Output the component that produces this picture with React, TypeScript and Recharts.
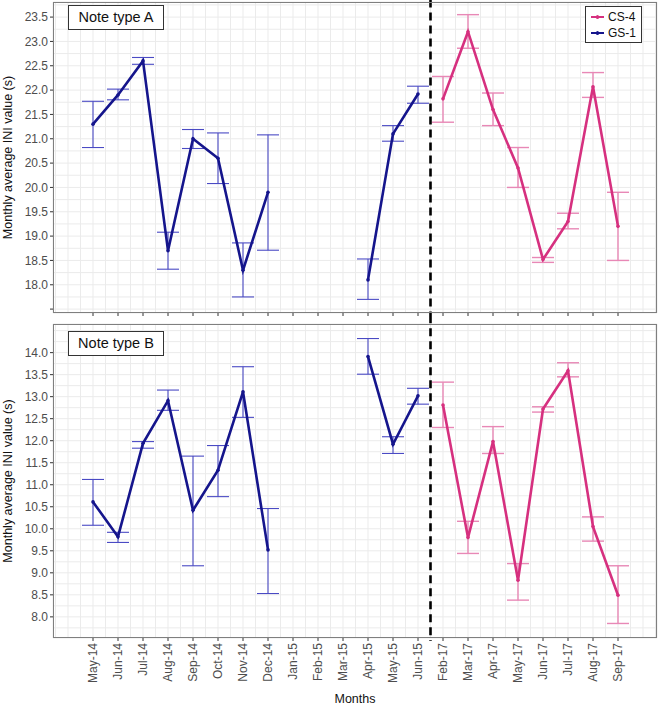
import { CartesianGrid, ErrorBar, Line, LineChart, ReferenceLine, XAxis, YAxis } from 'recharts';

const months = [
  'May-14', 'Jun-14', 'Jul-14', 'Aug-14', 'Sep-14', 'Oct-14', 'Nov-14', 'Dec-14',
  'Jan-15', 'Feb-15', 'Mar-15', 'Apr-15', 'May-15', 'Jun-15',
  'Feb-17', 'Mar-17', 'Apr-17', 'May-17', 'Jun-17', 'Jul-17', 'Aug-17', 'Sep-17',
];

// Note type A
const aGS = [21.3, 21.9, 22.6, 18.7, 21.0, 20.6, 18.3, 19.9, null, null, null, 18.1, 21.1, 21.92, null, null, null, null, null, null, null, null];
const aGSLow = [20.82, 21.8, 22.53, 18.32, 20.8, 20.08, 17.75, 18.71, null, null, null, 17.7, 20.95, 21.73, null, null, null, null, null, null, null, null];
const aGSHigh = [21.77, 22.02, 22.67, 19.08, 21.19, 21.12, 18.86, 21.08, null, null, null, 18.53, 21.27, 22.08, null, null, null, null, null, null, null, null];
const aCS = [null, null, null, null, null, null, null, null, null, null, null, null, null, null, 21.82, 23.2, 21.6, 20.4, 18.52, 19.3, 22.07, 19.2];
const aCSLow = [null, null, null, null, null, null, null, null, null, null, null, null, null, null, 21.34, 22.86, 21.27, 20.0, 18.46, 19.15, 21.85, 18.5];
const aCSHigh = [null, null, null, null, null, null, null, null, null, null, null, null, null, null, 22.28, 23.55, 21.94, 20.82, 18.56, 19.47, 22.36, 19.9];

// Note type B
const bGS = [10.61, 9.82, 11.94, 12.91, 10.42, 11.33, 13.11, 9.52, null, null, null, 13.91, 11.92, 13.02, null, null, null, null, null, null, null, null];
const bGSLow = [10.08, 9.69, 11.83, 12.69, 9.16, 10.73, 12.53, 8.53, null, null, null, 13.51, 11.71, 12.83, null, null, null, null, null, null, null, null];
const bGSHigh = [11.12, 9.92, 11.98, 13.15, 11.65, 11.89, 13.68, 10.46, null, null, null, 14.32, 12.09, 13.19, null, null, null, null, null, null, null, null];
const bCS = [null, null, null, null, null, null, null, null, null, null, null, null, null, null, 12.81, 9.8, 11.98, 8.83, 12.72, 13.59, 10.05, 8.49];
const bCSLow = [null, null, null, null, null, null, null, null, null, null, null, null, null, null, 12.3, 9.44, 11.71, 8.38, 12.65, 13.45, 9.72, 7.85];
const bCSHigh = [null, null, null, null, null, null, null, null, null, null, null, null, null, null, 13.33, 10.17, 12.32, 9.21, 12.77, 13.77, 10.27, 9.16];

const aTicks = [17.5, 18, 18.5, 19, 19.5, 20, 20.5, 21, 21.5, 22, 22.5, 23, 23.5];
const bTicks = [8, 8.5, 9, 9.5, 10, 10.5, 11, 11.5, 12, 12.5, 13, 13.5, 14];

const FONT = '"Liberation Sans", Arial, Helvetica, sans-serif';
const NAVY = '#15158c';
const NAVY_ERR = '#4a4ac4';
const PINK = '#d6307f';
const PINK_ERR = '#e888b6';

// grid every half step (major + minor)
const xGrid: number[] = [];
for (let i = -3; i <= 45; i++) xGrid.push(i / 2);
const gridTicks = (lo: number, hi: number) => {
  const out: number[] = [];
  for (let v = Math.ceil(lo * 4); v <= Math.floor(hi * 4); v++) out.push(v / 4);
  return out;
};

const buildRows = (gs: any[], gsLo: any[], gsHi: any[], cs: any[], csLo: any[], csHi: any[]) =>
  months.map((m, i) => ({
    idx: i,
    month: m,
    gs: gs[i],
    gsErr: gs[i] == null ? null : [gs[i] - gsLo[i], gsHi[i] - gs[i]],
    cs: cs[i],
    csErr: cs[i] == null ? null : [cs[i] - csLo[i], csHi[i] - cs[i]],
  }));

const rowsA = buildRows(aGS, aGSLow, aGSHigh, aCS, aCSLow, aCSHigh);
const rowsB = buildRows(bGS, bGSLow, bGSHigh, bCS, bCSLow, bCSHigh);

const XTick = (props: any) => {
  const { x, y, payload, showLabel } = props;
  const v = payload.value;
  if (!Number.isInteger(v) || v < 0 || v >= months.length) return <g />;
  return (
    <g transform={`translate(${x},${y})`}>
      <line x1={0} y1={0} x2={0} y2={3} stroke='#333' />
      {showLabel && (
        <text transform='rotate(-90)' x={-5} y={0} dy='0.35em' textAnchor='end' fontSize={12} fill='#4d4d4d' fontFamily={FONT}>
          {months[v]}
        </text>
      )}
    </g>
  );
};

const YTick = (props: any) => {
  const { x, y, payload, labels } = props;
  const v = payload.value;
  if (!labels.includes(v)) return <g />;
  return (
    <g transform={`translate(${x},${y})`}>
      <line x1={-3} y1={0} x2={0} y2={0} stroke='#333' />
      {v !== 17.5 && (
        <text x={-5} y={0} dy='0.35em' textAnchor='end' fontSize={12} fill='#4d4d4d' fontFamily={FONT}>
          {v.toFixed(1)}
        </text>
      )}
    </g>
  );
};

function Panel({ rows, domain, labels, top, height, bottomAxis, gapValue }: any) {
  return (
    <LineChart
      width={659}
      height={height}
      data={rows}
      margin={{ top: top, right: 2, left: 0, bottom: 0 }}
      style={{ fontFamily: FONT }}
    >
      <CartesianGrid stroke='#ebebeb' strokeWidth={1} />
      <XAxis
        dataKey='idx'
        type='number'
        domain={[-1.6, 22.56]}
        ticks={xGrid}
        interval={0}
        allowDataOverflow
        axisLine={false}
        tickLine={false}
        tickSize={0}
        tickMargin={0}
        height={bottomAxis ? 69 : 5}
        tick={(p: any) => <XTick {...p} showLabel={bottomAxis} />}
        label={bottomAxis ? { value: 'Months', position: 'insideBottom', offset: 4, fill: '#111', fontSize: 12.5 } : undefined}
      />
      <YAxis
        type='number'
        domain={domain}
        ticks={gridTicks(domain[0], domain[1])}
        interval={0}
        allowDataOverflow
        axisLine={false}
        tickLine={false}
        tickSize={0}
        tickMargin={0}
        width={53}
        tick={(p: any) => <YTick {...p} labels={labels} />}
        label={{
          value: 'Monthly average INI value (s)',
          angle: -90,
          position: 'insideLeft',
          offset: 8,
          fill: '#111',
          fontSize: 12.5,
          style: { textAnchor: 'middle' },
        }}
      />
      <ReferenceLine
        ifOverflow='visible'
        segment={[
          { x: 13.5, y: domain[1] + (top > 3 ? 0.2 : 0.05) },
          { x: 13.5, y: gapValue },
        ]}
        stroke='#000'
        strokeWidth={2.6}
        strokeDasharray='8 5'
      />
      <Line
        dataKey='gs'
        stroke={NAVY}
        strokeWidth={2.6}
        dot={{ r: 1.8, fill: NAVY, stroke: NAVY, strokeWidth: 0 }}
        activeDot={false}
        connectNulls={false}
        isAnimationActive={false}
      >
        <ErrorBar dataKey='gsErr' width={11} stroke={NAVY_ERR} strokeWidth={1.1} direction='y' />
      </Line>
      <Line
        dataKey='cs'
        stroke={PINK}
        strokeWidth={2.6}
        dot={{ r: 1.8, fill: PINK, stroke: PINK, strokeWidth: 0 }}
        activeDot={false}
        connectNulls={false}
        isAnimationActive={false}
      >
        <ErrorBar dataKey='csErr' width={11} stroke={PINK_ERR} strokeWidth={1.4} direction='y' />
      </Line>
    </LineChart>
  );
}

const noteBox = (text: string, top: number) => (
  <div
    style={{
      position: 'absolute',
      left: 68,
      top,
      width: 96,
      height: 25,
      boxSizing: 'border-box',
      border: '1px solid #333',
      background: '#fff',
      fontSize: 14.5,
      lineHeight: '23px',
      textAlign: 'center',
      color: '#111',
    }}
  >
    {text}
  </div>
);

const legendItems = [
  { name: 'CS-4', color: PINK },
  { name: 'GS-1', color: NAVY },
];

export default function App() {
  return (
    <div style={{ position: 'absolute', left: 0, top: 0, width: 659, height: 707, background: '#fff', fontFamily: FONT }}>
      <div style={{ position: 'absolute', left: 0, top: 0 }}>
        <Panel rows={rowsA} domain={[17.42, 23.81]} labels={aTicks} top={2} height={318} bottomAxis={false} gapValue={17.19} />
      </div>
      <div style={{ position: 'absolute', left: 0, top: 318 }}>
        <Panel rows={rowsB} domain={[7.52, 14.65]} labels={bTicks} top={6} height={389} bottomAxis gapValue={7.45} />
      </div>
      <div style={{ position: 'absolute', left: 53, top: 2, width: 604, height: 311, boxSizing: 'border-box', border: '1px solid #7f7f7f', pointerEvents: 'none' }} />
      <div style={{ position: 'absolute', left: 53, top: 324, width: 604, height: 314, boxSizing: 'border-box', border: '1px solid #7f7f7f', pointerEvents: 'none' }} />
      {noteBox('Note type A', 5)}
      {noteBox('Note type B', 331)}
      <div
        style={{
          position: 'absolute',
          left: 585,
          top: 6,
          width: 57,
          height: 37,
          boxSizing: 'border-box',
          border: '1px solid #333',
          background: '#fff',
          padding: '2px 0 0 5px',
        }}
      >
        {legendItems.map((it) => (
          <div key={it.name} style={{ display: 'flex', alignItems: 'center', height: 16, fontSize: 12, color: '#111' }}>
            <span style={{ position: 'relative', width: 13, height: 2, background: it.color, marginRight: 4, display: 'inline-block' }}>
              <span style={{ position: 'absolute', left: 5, top: -1, width: 3, height: 4, borderRadius: 2, background: it.color }} />
            </span>
            {it.name}
          </div>
        ))}
      </div>
    </div>
  );
}
